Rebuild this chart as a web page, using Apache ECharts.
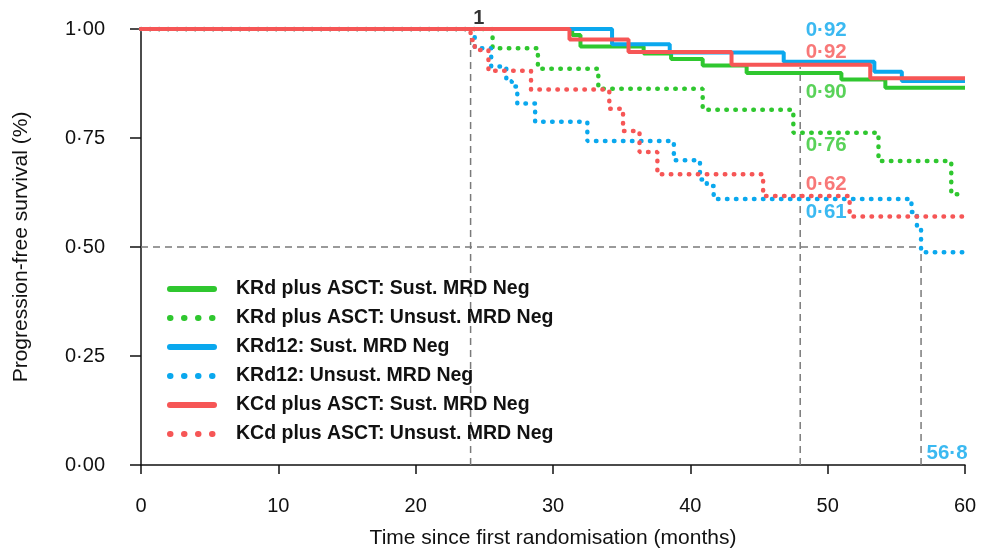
<!DOCTYPE html>
<html>
<head>
<meta charset="utf-8">
<script src="https://cdn.jsdelivr.net/npm/echarts@6/dist/echarts.min.js"></script>
<style>html,body{margin:0;padding:0;background:#fff}#c{width:987px;height:554px}</style>
</head>
<body>
<div id="c"></div>
<script>
// ---- data ----
const xTicks = [0, 10, 20, 30, 40, 50, 60];
const yTicks = [0, 0.25, 0.5, 0.75, 1];

const seriesNames = [
  'KRd plus ASCT: Sust. MRD Neg',
  'KRd plus ASCT: Unsust. MRD Neg',
  'KRd12: Sust. MRD Neg',
  'KRd12: Unsust. MRD Neg',
  'KCd plus ASCT: Sust. MRD Neg',
  'KCd plus ASCT: Unsust. MRD Neg'
];

const krdAsctSustT = [0, 31.4, 32.0, 36.6, 38.6, 40.9, 44.1, 51.0, 54.2, 60];
const krdAsctSustS = [1, 0.986, 0.96, 0.944, 0.931, 0.916, 0.899, 0.884, 0.865, 0.865];

const krdAsctUnsT = [0, 25.6, 28.9, 33.3, 40.9, 47.5, 53.7, 59.0, 60];
const krdAsctUnsS = [1, 0.956, 0.909, 0.863, 0.815, 0.762, 0.697, 0.621, 0.621];

const krd12SustT = [0, 34.3, 38.5, 46.8, 53.4, 55.4, 60];
const krd12SustS = [1, 0.965, 0.946, 0.925, 0.902, 0.881, 0.881];

const krd12UnsT = [0, 24.3, 25.5, 26.6, 27.0, 27.4, 28.7, 32.5, 38.8, 40.7, 41.2, 41.7, 56.1, 56.5, 56.8, 60];
const krd12UnsS = [1, 0.956, 0.914, 0.88, 0.868, 0.829, 0.787, 0.743, 0.699, 0.655, 0.64, 0.61, 0.58, 0.545, 0.488, 0.488];

const kcdAsctSustT = [0, 31.2, 35.5, 43.0, 53.1, 60];
const kcdAsctSustS = [1, 0.976, 0.947, 0.918, 0.887, 0.887];

const kcdAsctUnsT = [0, 24.0, 24.3, 25.3, 28.4, 34.1, 35.1, 36.3, 37.6, 45.3, 51.6, 60];
const kcdAsctUnsS = [1, 0.975, 0.952, 0.904, 0.861, 0.817, 0.766, 0.718, 0.667, 0.617, 0.57, 0.57];

// reference lines: landmark 24 months, 48 months, median 56.8 months
const landmarkMonth = 24;
const landmarkLabel = '1';
const evalMonth = 48;
const medianMonth = 56.8;
const medianSurv = 0.5;

// survival at 48 months, in series order
const at48Values = [0.90, 0.76, 0.92, 0.61, 0.92, 0.62];

// ---- styles ----
const GREEN = '#2fc72f', BLUE = '#0aa8ee', RED = '#f65656';
const colors = [GREEN, GREEN, BLUE, BLUE, RED, RED];
const dotted = [false, true, false, true, false, true];
const FONT = "'Liberation Sans', Arial, Helvetica, sans-serif";

function fmt(v, d) { return v.toFixed(d).replace('.', '\u00B7'); }
function pairs(t, s) { return t.map((x, i) => [x, s[i]]); }

const curveData = [
  pairs(krdAsctSustT, krdAsctSustS),
  pairs(krdAsctUnsT, krdAsctUnsS),
  pairs(krd12SustT, krd12SustS),
  pairs(krd12UnsT, krd12UnsS),
  pairs(kcdAsctSustT, kcdAsctSustS),
  pairs(kcdAsctUnsT, kcdAsctUnsS)
];

const series = [];

// dashed reference lines
const refStyle = { color: '#7a7a7a', width: 1.5, type: [7, 5] };
function refLine(data) {
  return { type: 'line', data: data, symbol: 'none', silent: true, lineStyle: refStyle, z: 1, animation: false };
}
series.push(refLine([[landmarkMonth, 0], [landmarkMonth, 0.99]]));
series.push(refLine([[evalMonth, 0], [evalMonth, 0.913]]));
series.push(refLine([[medianMonth, 0], [medianMonth, medianSurv]]));
series.push(refLine([[0, medianSurv], [medianMonth, medianSurv]]));

// KM curves
curveData.forEach((d, i) => {
  series.push({
    name: seriesNames[i],
    type: 'line',
    step: 'end',
    data: d,
    symbol: 'none',
    animation: false,
    z: 3 + i,
    lineStyle: dotted[i]
      ? { color: colors[i], width: 4.5, type: [0.5, 8.5], cap: 'round' }
      : { color: colors[i], width: 4 },
    itemStyle: { color: colors[i] }
  });
});

// text annotations (positions in data units)
const annot = [
  { text: fmt(at48Values[2], 2), color: BLUE, x: 48.4, y: 0.998 },
  { text: fmt(at48Values[4], 2), color: RED, x: 48.4, y: 0.947 },
  { text: fmt(at48Values[0], 2), color: GREEN, x: 48.4, y: 0.854 },
  { text: fmt(at48Values[1], 2), color: GREEN, x: 48.4, y: 0.733 },
  { text: fmt(at48Values[5], 2), color: RED, x: 48.4, y: 0.644 },
  { text: fmt(at48Values[3], 2), color: BLUE, x: 48.4, y: 0.580 },
  { text: fmt(medianMonth, 1), color: BLUE, x: 57.2, y: 0.027 },
  { text: landmarkLabel, color: '#000', x: 24.6, y: 1.024, size: 20, align: 'center' }
];
annot.forEach(a => {
  series.push({
    type: 'scatter',
    data: [[a.x, a.y]],
    symbolSize: 0,
    silent: true,
    clip: false,
    animation: false,
    z: 10,
    label: {
      show: true,
      position: [0, 0],
      formatter: a.text,
      color: a.color,
      fontFamily: FONT,
      fontWeight: 'bold',
      fontSize: a.size || 20.5,
      align: a.align || 'left',
      verticalAlign: 'middle'
    }
  });
});

const chart = echarts.init(document.getElementById('c'), null, { renderer: 'canvas' });
chart.setOption({
  backgroundColor: '#ffffff',
  animation: false,
  grid: { left: 141, right: 22, top: 29, bottom: 87, containLabel: false },
  legend: {
    orient: 'vertical',
    left: 167,
    top: 279,
    padding: 0,
    itemWidth: 44,
    itemHeight: 20,
    itemGap: 9,
    selectedMode: false,
    textStyle: { fontFamily: FONT, fontWeight: 'bold', fontSize: 19.5, lineHeight: 20, color: '#111', padding: [0, 0, 0, 17] },
    data: seriesNames.map((n, i) => ({
      name: n,
      itemStyle: { opacity: 0 },
      lineStyle: dotted[i]
        ? { color: colors[i], width: 6, type: [0.5, 13.5], cap: 'round', opacity: 1 }
        : { color: colors[i], width: 6, cap: 'round', opacity: 1 }
    }))
  },
  xAxis: {
    type: 'value',
    min: xTicks[0],
    max: xTicks[xTicks.length - 1],
    interval: 10,
    name: 'Time since first randomisation (months)',
    nameLocation: 'middle',
    nameGap: 63,
    nameTextStyle: { fontFamily: FONT, fontSize: 21, color: '#111' },
    axisLine: { show: true, onZero: false, lineStyle: { color: '#111', width: 1.5 } },
    axisTick: { show: true, length: 9, lineStyle: { color: '#111', width: 1.5 } },
    axisLabel: { margin: 31, fontFamily: FONT, fontSize: 20, color: '#111' },
    splitLine: { show: false }
  },
  yAxis: {
    type: 'value',
    min: yTicks[0],
    max: yTicks[yTicks.length - 1],
    interval: 0.25,
    name: 'Progression-free survival (%)',
    nameLocation: 'middle',
    nameGap: 109,
    nameTextStyle: { fontFamily: FONT, fontSize: 21, color: '#111' },
    axisLine: { show: true, onZero: false, lineStyle: { color: '#111', width: 1.5 } },
    axisTick: { show: true, length: 11, lineStyle: { color: '#111', width: 1.5 } },
    axisLabel: { margin: 36, fontFamily: FONT, fontSize: 20, color: '#111', formatter: v => fmt(v, 2) },
    splitLine: { show: false }
  },
  series: series
});
</script>
</body>
</html>
